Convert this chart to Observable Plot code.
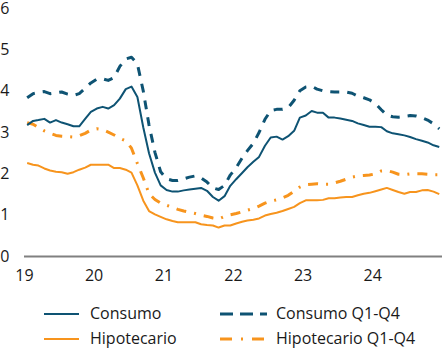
<!DOCTYPE html>
<html>
<head>
<meta charset="utf-8">
<script src="https://cdn.jsdelivr.net/npm/d3@7"></script>
<script src="https://cdn.jsdelivr.net/npm/@observablehq/plot@0.6"></script>
<style>
  html, body { margin: 0; padding: 0; background: #fff; }
  body { width: 442px; height: 348px; overflow: hidden; font-family: "Open Sans", sans-serif; color: #1a1a1a; }
  #legend { display: grid; grid-template-columns: 176px auto; row-gap: 0; padding-left: 44px; margin-top: 9px; font-size: 16px; line-height: 25px; }
  .item { display: flex; align-items: center; white-space: nowrap; }
  .item svg { display: block; flex: none; }
</style>
</head>
<body>
<div id="chart"></div>
<div id="legend"></div>
<script>
// Monthly series, Jan 2019 – Dec 2024 (%)
const firstMonth = "2019-01";
const lastMonth = "2024-12";

const consumo = [
  3.18, 3.28, 3.30, 3.33, 3.24, 3.30, 3.24, 3.20, 3.15, 3.15, 3.33, 3.50,
  3.58, 3.62, 3.58, 3.66, 3.82, 4.05, 4.11, 3.86, 3.12, 2.50, 2.03, 1.72,
  1.61, 1.57, 1.57, 1.60, 1.62, 1.64, 1.66, 1.59, 1.44, 1.35, 1.46, 1.71,
  1.87, 2.02, 2.16, 2.29, 2.41, 2.68, 2.88, 2.90, 2.83, 2.91, 3.04, 3.36,
  3.41, 3.52, 3.48, 3.48, 3.36, 3.36, 3.34, 3.31, 3.28, 3.22, 3.18, 3.14,
  3.14, 3.13, 3.03, 2.98, 2.96, 2.93, 2.89, 2.84, 2.80, 2.76, 2.69, 2.65
];
const consumoQ = [
  3.84, 3.94, 3.97, 3.99, 3.94, 3.96, 3.98, 3.93, 3.90, 3.94, 4.07, 4.20,
  4.29, 4.30, 4.26, 4.33, 4.60, 4.78, 4.82, 4.66, 4.00, 3.18, 2.52, 2.05,
  1.88, 1.84, 1.84, 1.88, 1.92, 1.95, 1.90, 1.80, 1.66, 1.62, 1.72, 1.97,
  2.15, 2.38, 2.56, 2.74, 3.00, 3.32, 3.53, 3.56, 3.56, 3.60, 3.78, 4.01,
  4.10, 4.12, 4.05, 4.01, 3.99, 3.98, 3.98, 3.98, 3.95, 3.88, 3.84, 3.79,
  3.70, 3.55, 3.42, 3.38, 3.37, 3.39, 3.41, 3.40, 3.36, 3.30, 3.21, 3.09
];
const hipotecario = [
  2.26, 2.22, 2.20, 2.13, 2.08, 2.05, 2.04, 2.00, 2.04, 2.10, 2.15, 2.22,
  2.22, 2.22, 2.22, 2.14, 2.14, 2.10, 2.03, 1.72, 1.35, 1.10, 1.02, 0.96,
  0.90, 0.86, 0.83, 0.83, 0.83, 0.83, 0.78, 0.76, 0.75, 0.70, 0.75, 0.75,
  0.80, 0.84, 0.87, 0.89, 0.92, 0.99, 1.03, 1.06, 1.10, 1.15, 1.20, 1.29,
  1.36, 1.36, 1.36, 1.37, 1.41, 1.41, 1.43, 1.44, 1.44, 1.48, 1.52, 1.54,
  1.58, 1.62, 1.66, 1.61, 1.56, 1.52, 1.56, 1.56, 1.60, 1.61, 1.57, 1.51
];
const hipotecarioQ = [
  3.24, 3.20, 3.12, 3.04, 2.98, 2.93, 2.91, 2.90, 2.89, 2.92, 2.98, 3.06,
  3.09, 3.07, 3.01, 2.94, 2.86, 2.80, 2.62, 2.25, 1.90, 1.52, 1.38, 1.29,
  1.24, 1.19, 1.14, 1.10, 1.07, 1.04, 1.00, 0.97, 0.93, 0.91, 0.97, 1.01,
  1.04, 1.08, 1.12, 1.16, 1.22, 1.29, 1.34, 1.37, 1.42, 1.48, 1.58, 1.68,
  1.74, 1.75, 1.76, 1.75, 1.75, 1.78, 1.82, 1.87, 1.92, 1.95, 1.96, 1.97,
  2.00, 2.07, 2.08, 2.04, 1.99, 1.98, 2.00, 2.00, 2.00, 1.99, 1.98, 1.98
];

const seriesNames = ["Consumo", "Consumo Q1-Q4", "Hipotecario", "Hipotecario Q1-Q4"];
const xTickYears = [2019, 2020, 2021, 2022, 2023, 2024];
const yTicks = [0, 1, 2, 3, 4, 5, 6];

const BLUE = "#0e5373";
const ORANGE = "#f7941d";

const parse = d3.utcParse("%Y-%m");
const months = d3.utcMonth.range(parse(firstMonth), d3.utcMonth.offset(parse(lastMonth), 1));
const mid = months.map(m => d3.utcDay.offset(m, 14));
const toRows = vals => vals.map((v, i) => ({date: mid[i], value: v}));

const styles = {
  "Consumo": {stroke: BLUE, strokeWidth: 2, dash: null},
  "Consumo Q1-Q4": {stroke: BLUE, strokeWidth: 3, dash: "9,8"},
  "Hipotecario": {stroke: ORANGE, strokeWidth: 2, dash: null},
  "Hipotecario Q1-Q4": {stroke: ORANGE, strokeWidth: 3, dash: "10,8,2,8"}
};
const dataBy = {
  "Consumo": consumo,
  "Consumo Q1-Q4": consumoQ,
  "Hipotecario": hipotecario,
  "Hipotecario Q1-Q4": hipotecarioQ
};
const drawOrder = ["Hipotecario", "Hipotecario Q1-Q4", "Consumo", "Consumo Q1-Q4"];

const chart = Plot.plot({
  width: 442,
  height: 292,
  marginLeft: 24,
  marginRight: 0,
  marginTop: 8,
  marginBottom: 36,
  style: {fontFamily: "'Open Sans', sans-serif", fontSize: "16px", color: "#1a1a1a", background: "#fff", overflow: "visible"},
  x: {type: "utc", domain: [parse(firstMonth), d3.utcMonth.offset(parse(lastMonth), 1)]},
  y: {domain: [0, 6]},
  marks: [
    Plot.axisX({ticks: xTickYears.map(y => new Date(Date.UTC(y, 0, 1))), tickSize: 0, tickPadding: 13, tickFormat: d3.utcFormat("%y"), label: null, fill: "#1a1a1a"}),
    Plot.axisY({ticks: yTicks, tickSize: 0, tickPadding: 15, tickFormat: d3.format("d"), label: null, fill: "#1a1a1a"}),
    Plot.ruleY([0], {stroke: "#808080", strokeWidth: 2}),
    ...drawOrder.map(name => Plot.line(toRows(dataBy[name]), {
      x: "date", y: "value",
      stroke: styles[name].stroke,
      strokeWidth: styles[name].strokeWidth,
      strokeDasharray: styles[name].dash,
      strokeLinejoin: "round",
      strokeLinecap: "butt",
      curve: "linear"
    }))
  ]
});
document.getElementById("chart").appendChild(chart);

// Legend
const legendOrder = ["Consumo", "Consumo Q1-Q4", "Hipotecario", "Hipotecario Q1-Q4"];
const legend = d3.select("#legend");
legendOrder.forEach((name, k) => {
  const s = styles[name];
  const col = k % 2;
  const w = col === 0 ? 35 : 47;
  const item = legend.append("div").attr("class", "item");
  const svg = item.append("svg").attr("width", w).attr("height", 6)
    .style("margin-right", col === 0 ? "11px" : "9px");
  svg.append("line")
    .attr("x1", 0).attr("x2", w).attr("y1", 3).attr("y2", 3)
    .attr("stroke", s.stroke).attr("stroke-width", s.strokeWidth)
    .attr("stroke-dasharray", s.dash ? (name === "Consumo Q1-Q4" ? "13,7" : "12,9,2,9") : null);
  item.append("span").text(name);
});
</script>
</body>
</html>
